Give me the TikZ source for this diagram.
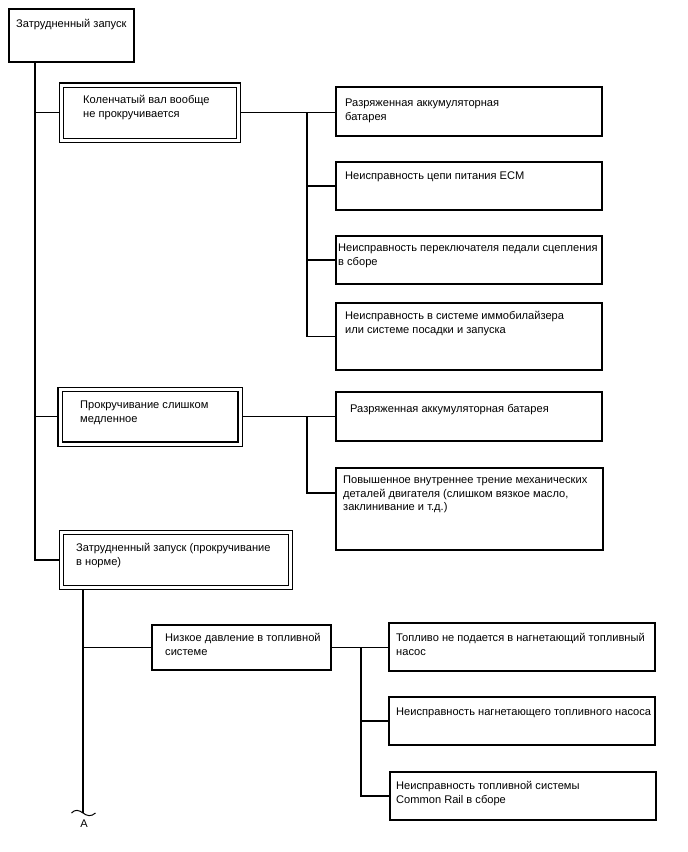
\documentclass[tikz,border=0pt]{standalone}
\usepackage{fontspec}
\setmainfont{Liberation Sans}
\usetikzlibrary{calc}
\newcommand{\ml}[1]{\begin{tabular}[t]{@{}l@{}}#1\end{tabular}}
\begin{document}
\begin{tikzpicture}[x=1pt,y=-1pt,
  box/.style={draw, line width=1.3pt, inner sep=0pt, outer sep=0pt, anchor=north west},
  dbox/.style={draw, line width=1.3pt, double, double distance=3pt, inner sep=0pt, outer sep=2.8pt, anchor=north west},
  lbl/.style={anchor=base west, inner sep=0pt, font=\fontsize{11.1}{13.5}\selectfont},
  conn/.style={line width=1.3pt}]
\useasboundingbox (0,0) rectangle (688,852);
% boxes
\node[box, minimum width=125pt, minimum height=53pt] (T0) at (9,9) {};
\node[dbox, minimum width=177pt, minimum height=55.5pt] (D1) at (58.7,82.2) {};
\node[dbox, minimum width=180pt, minimum height=54.5pt] (D2) at (57.2,386.7) {};
\node[dbox, minimum width=229pt, minimum height=55pt] (D3) at (58.7,529.7) {};
\node[box, minimum width=266pt, minimum height=49pt] (R1) at (336,87) {};
\node[box, minimum width=266pt, minimum height=48pt] (R2) at (336,162) {};
\node[box, minimum width=266pt, minimum height=48pt] (R3) at (336,236) {};
\node[box, minimum width=266pt, minimum height=67pt] (R4) at (336,303) {};
\node[box, minimum width=266pt, minimum height=49pt] (R5) at (336,392) {};
\node[box, minimum width=267pt, minimum height=82pt] (R6) at (336,468) {};
\node[box, minimum width=179pt, minimum height=45pt] (L1) at (152,625) {};
\node[box, minimum width=266pt, minimum height=48pt] (F1) at (389,623) {};
\node[box, minimum width=266pt, minimum height=48pt] (F2) at (389,697) {};
\node[box, minimum width=266pt, minimum height=48pt] (F3) at (390,772) {};
% texts
\node[lbl] (tT0) at (16,27.5) {Затрудненный запуск};
\node[lbl] (tD1) at (83,103.5) {\ml{Коленчатый вал вообще\\не прокручивается}};
\node[lbl] (tR1) at (345,106.5) {\ml{Разряженная аккумуляторная\\батарея}};
\node[lbl] (tR2) at (345,179.5) {Неисправность цепи питания ECM};
\node[lbl] (tR3) at (338,251.5) {\ml{Неисправность переключателя педали сцепления\\в сборе}};
\node[lbl] (tR4) at (345,319.5) {\ml{Неисправность в системе иммобилайзера\\или системе посадки и запуска}};
\node[lbl] (tD2) at (80,408.5) {\ml{Прокручивание слишком\\медленное}};
\node[lbl] (tR5) at (350,412.5) {Разряженная аккумуляторная батарея};
\node[lbl] (tR6) at (343,483.5) {\ml{Повышенное внутреннее трение механических\\деталей двигателя (слишком вязкое масло,\\заклинивание и т.д.)}};
\node[lbl] (tD3) at (76,551.5) {\ml{Затрудненный запуск (прокручивание\\в норме)}};
\node[lbl] (tL1) at (165,641.5) {\ml{Низкое давление в топливной\\системе}};
\node[lbl] (tF1) at (396,641.5) {\ml{Топливо не подается в нагнетающий топливный\\насос}};
\node[lbl] (tF2) at (396,715.5) {Неисправность нагнетающего топливного насоса};
\node[lbl] (tF3) at (396,789.5) {\ml{Неисправность топливной системы\\Common Rail в сборе}};
\node[lbl, anchor=base] (A) at (84,827) {A};
% connectors
\coordinate (ta) at (35,0);
\coordinate (sa) at (307,0);
\coordinate (va) at (83,0);
\coordinate (sb) at (361,0);
\coordinate (q) at (83,813);
\draw[conn] (ta |- T0.south) -- (ta |- D3.west) -- (D3.west);
\draw[conn] (ta |- D1.west) -- (D1.west);
\draw[conn] (ta |- D2.west) -- (D2.west);
\draw[conn] (D1.east) -- (R1.west |- D1.east);
\draw[conn] (sa |- D1.east) |- (R4.west);
\draw[conn] (sa |- R2.west) -- (R2.west);
\draw[conn] (sa |- R3.west) -- (R3.west);
\draw[conn] (D2.east) -- (R5.west |- D2.east);
\draw[conn] (sa |- D2.east) |- ($(R6.north west)+(0,25)$);
\draw[conn] (va |- D3.south) -- (q);
\draw[conn] (va |- L1.west) -- (L1.west);
\draw[conn] (L1.east) -- (F1.west |- L1.east);
\draw[conn] (sb |- L1.east) |- (F3.west);
\draw[conn] (sb |- F2.west) -- (F2.west);
\draw[line width=1pt] ($(q)+(-11.5,0)$) .. controls ($(q)+(-8,-4)$) and ($(q)+(-4,-3)$) .. (q) .. controls ($(q)+(4,3)$) and ($(q)+(8,4)$) .. ($(q)+(12.5,0)$);
\end{tikzpicture}
\end{document}
